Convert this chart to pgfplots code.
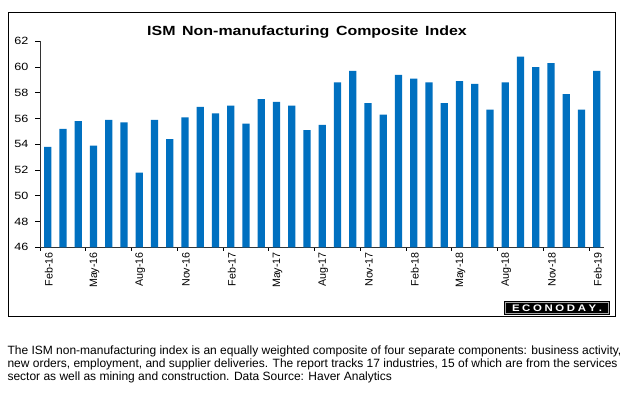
\documentclass[border=0pt]{standalone}
\usepackage{fontspec}
\setmainfont{Liberation Sans}
\newfontfamily\chartfont[FakeStretch=1.2]{Liberation Sans}
\usepackage{pgfplots}
\pgfplotsset{compat=1.18}
\definecolor{barblue}{RGB}{0,112,192}
\begin{document}
\begin{tikzpicture}[x=1pt,y=1pt]
\useasboundingbox (0,0) rectangle (629,399);
\fill[white] (0,0) rectangle (629,399);
\draw[line width=1pt] (8.3,386.7) rectangle (615,82);
\begin{axis}[
  at={(40.1pt,151.7pt)}, anchor=south west,
  scale only axis, width=564.2pt, height=206pt,
  xmin=-0.5, xmax=36.5, ymin=46, ymax=62,
  ytick={46,48,...,62},
  xtick={0,3,...,36},
  xticklabels={Feb-16,May-16,Aug-16,Nov-16,Feb-17,May-17,Aug-17,Nov-17,Feb-18,May-18,Aug-18,Nov-18,Feb-19},
  minor xtick={-0.5,2.5,...,35.5},
  major x tick style={draw=none},
  axis x line*=bottom, axis y line*=left,
  axis line style={-, line width=1.1pt, draw=black!80},
  tick align=outside,
  major tick length=4.7pt, minor tick length=3.5pt,
  tick style={line width=0.8pt, black},
  /pgf/number format/assume math mode=true,
  yticklabel style={font=\chartfont\fontsize{10.5}{12}\selectfont, inner sep=0pt, xshift=-6.7pt},
  xticklabel style={font=\fontsize{10.7}{12}\selectfont, rotate=90, anchor=east, inner sep=0pt, yshift=-1pt},
  ybar, bar width=0.48,
]
\addplot[fill=barblue, draw=none] coordinates {
(0,53.8) (1,55.2) (2,55.8) (3,53.9) (4,55.9) (5,55.7) (6,51.8) (7,55.9) (8,54.4) (9,56.1)
(10,56.9) (11,56.4) (12,57.0) (13,55.6) (14,57.5) (15,57.3) (16,57.0) (17,55.1) (18,55.5) (19,58.8)
(20,59.7) (21,57.2) (22,56.3) (23,59.4) (24,59.1) (25,58.8) (26,57.2) (27,58.9) (28,58.7) (29,56.7)
(30,58.8) (31,60.8) (32,60.0) (33,60.3) (34,57.9) (35,56.7) (36,59.7)};
\end{axis}
\node[anchor=base, inner sep=0pt] at (307,363.7) {\chartfont\bfseries\fontsize{13.3}{15}\selectfont ISM\ \,Non-manufacturing\ \,Composite\ \,Index};
% logo
\fill[black] (504,83.7) rectangle (610,98.3);
\draw[gray!70, line width=0.8pt] (505.5,85.2) rectangle (608.5,96.8);
\node[inner sep=0pt, text=white] at (557,91) {\chartfont\bfseries\fontsize{9.5}{10}\selectfont\makebox[90pt][s]{E\hfil C\hfil O\hfil N\hfil O\hfil D\hfil A\hfil Y\hfil .}};
% footnote
\begin{scope}[every node/.style={anchor=base west, inner sep=0pt, font=\fontsize{12}{13}\selectfont}]
\node at (7.3,44.5) {The ISM non-manufacturing index is an equally weighted composite of four separate components: business activity,};
\node at (7.3,31.5) {new orders, employment, and supplier deliveries. The report tracks 17 industries, 15 of which are from the services};
\node at (7.3,18.5) {sector as well as mining and construction. Data Source: Haver Analytics};
\end{scope}
\end{tikzpicture}
\end{document}
